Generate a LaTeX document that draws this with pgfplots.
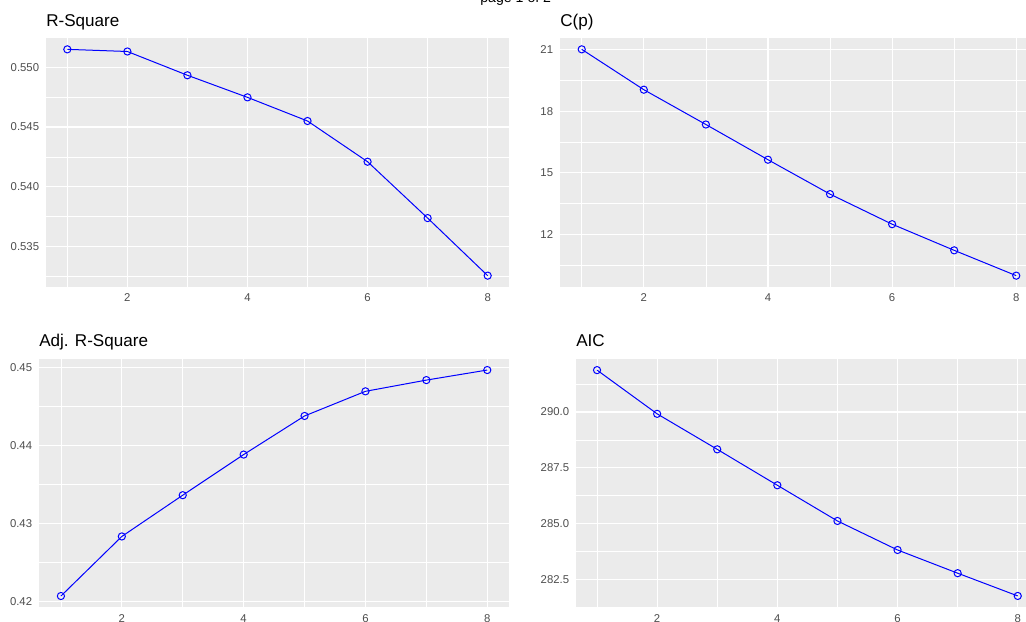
\documentclass[border=0pt]{standalone}
\usepackage{pgfplots}
\pgfplotsset{compat=1.18}
\usepackage{fontspec}
\setmainfont{Liberation Sans}

\definecolor{panelbg}{RGB}{235,235,235}
\definecolor{ticktext}{RGB}{77,77,77}

% Shared look of the four selection-criteria panels
\pgfplotsset{
  critpanel/.style={
    scale only axis,
    anchor=south west,
    axis background/.style={fill=panelbg, draw=none},
    axis line style={draw=none},
    major tick length=0pt, minor tick length=0pt,
    tick style={draw=none},
    grid=both,
    major grid style={white, line width=0.85pt},
    minor grid style={white, line width=0.45pt},
    xtick={2,4,6,8}, minor xtick={1,3,5,7},
    /pgf/number format/assume math mode=true,
    tick label style={font=\fontsize{8.5}{10}\selectfont, text=ticktext},
    xticklabel style={anchor=north, inner sep=0pt},
    yticklabel style={anchor=east, inner sep=0pt},
    xticklabel shift=5pt,
    yticklabel shift=5pt,
    title style={anchor=base west, at={(0,1)}, yshift=2.8pt, inner sep=0pt,
                 font=\fontsize{12.8}{14}\selectfont},
    clip=false,
  },
  critline/.style={blue, line width=0.75pt, mark=o, mark size=2.7pt,
                   mark options={line width=0.75pt, fill=none}},
}

\begin{document}
\begin{tikzpicture}
\useasboundingbox (0,0) rectangle (769.5pt,466.5pt);

\node[anchor=base, inner sep=0pt, font=\fontsize{10.6}{12}\selectfont]
  at (386.8pt,464.6pt) {page 1 of 2};

% R-Square
\begin{axis}[critpanel, at={(34.5pt,251.25pt)}, width=347.25pt, height=186.75pt,
  title={R-Square},
  xmin=0.645, xmax=8.355,
  ymin=0.5316, ymax=0.55245,
  ytick={0.535,0.540,0.545,0.550},
  yticklabels={0.535,0.540,0.545,0.550},
  minor ytick={0.5325,0.5375,0.5425,0.5475}]
\addplot[critline] coordinates {
  (1,0.5515) (2,0.55132) (3,0.54933) (4,0.54748)
  (5,0.54550) (6,0.54209) (7,0.53737) (8,0.53255)};
\end{axis}

% C(p)
\begin{axis}[critpanel, at={(420pt,251.25pt)}, width=358.5pt, height=186.75pt,
  title={C(p)},
  xmin=0.65, xmax=8.35,
  ymin=9.46, ymax=21.55,
  ytick={12,15,18,21},
  minor ytick={10.5,13.5,16.5,19.5}]
\addplot[critline] coordinates {
  (1,21.00) (2,19.04) (3,17.35) (4,15.64)
  (5,13.97) (6,12.51) (7,11.24) (8,10.01)};
\end{axis}

% Adj. R-Square
\begin{axis}[critpanel, at={(29.25pt,11pt)}, width=352.5pt, height=186.45pt,
  title={Adj. R-Square},
  xmin=0.64, xmax=8.357,
  ymin=0.41928, ymax=0.45116,
  ytick={0.42,0.43,0.44,0.45},
  yticklabels={0.42,0.43,0.44,0.45},
  minor ytick={0.425,0.435,0.445}]
\addplot[critline] coordinates {
  (1,0.42073) (2,0.42837) (3,0.43366) (4,0.43887)
  (5,0.44382) (6,0.44698) (7,0.44842) (8,0.44971)};
\end{axis}

% AIC
\begin{axis}[critpanel, at={(432pt,11pt)}, width=347.1pt, height=186.45pt,
  title={AIC},
  xmin=0.65, xmax=8.35,
  ymin=281.25, ymax=292.39,
  ytick={282.5,285,287.5,290},
  yticklabels={282.5,285.0,287.5,290.0},
  minor ytick={283.75,286.25,288.75,291.25}]
\addplot[critline] coordinates {
  (1,291.88) (2,289.92) (3,288.33) (4,286.72)
  (5,285.12) (6,283.82) (7,282.78) (8,281.76)};
\end{axis}
\end{tikzpicture}
\end{document}
